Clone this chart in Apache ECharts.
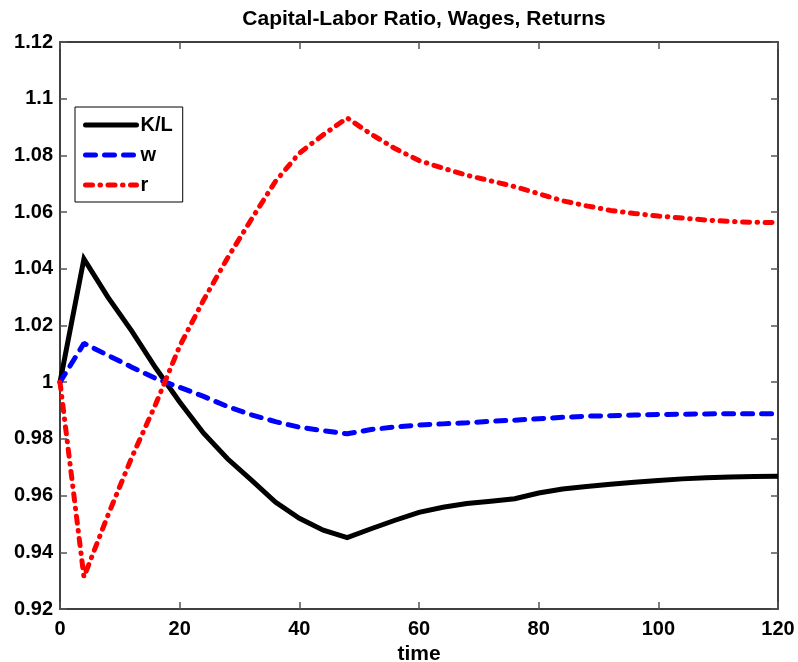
<!DOCTYPE html>
<html>
<head>
<meta charset="utf-8">
<script src="https://cdn.jsdelivr.net/npm/echarts@6/dist/echarts.min.js"></script>
<style>html,body{margin:0;padding:0;background:#fff;}#c{width:798px;height:662px;}</style>
</head>
<body>
<div id="c"></div>
<script>
const time = [0,4,8,12,16,20,24,28,32,36,40,44,48,52,56,60,64,68,72,76,80,84,88,92,96,100,104,108,112,116,120];
const capitalLabor = [1.000,1.0435,1.030,1.018,1.005,0.993,0.982,0.973,0.9655,0.9577,0.952,0.9478,0.9452,0.9483,0.9513,0.9541,0.9559,0.9572,0.958,0.9589,0.9609,0.9623,0.9632,0.964,0.9647,0.9653,0.9659,0.9663,0.9666,0.9667,0.9668];
const wages = [1.000,1.0137,1.0095,1.0053,1.0013,0.9982,0.995,0.9914,0.9885,0.9861,0.9841,0.9829,0.9818,0.9833,0.9842,0.9849,0.9853,0.9857,0.9862,0.9866,0.9871,0.9876,0.988,0.9882,0.9884,0.9886,0.9887,0.9888,0.9889,0.9889,0.9889];
const returns = [1.000,0.9313,0.953,0.9735,0.9923,1.0127,1.029,1.0438,1.0575,1.0708,1.0808,1.0873,1.0932,1.0875,1.0824,1.0782,1.0755,1.073,1.071,1.069,1.0665,1.064,1.0622,1.0606,1.0595,1.0586,1.0579,1.0572,1.0567,1.0564,1.0563];
const seriesNames = ['K/L','w','r'];
const titleText = 'Capital-Labor Ratio, Wages, Returns';
const xName = 'time';

const FONT = '"Liberation Sans", Arial, sans-serif';
const pair = arr => time.map((t,i)=>[t,arr[i]]);
const fmtY = v => parseFloat(Number(v).toFixed(2)).toString();

const chart = echarts.init(document.getElementById('c'), null, {renderer:'canvas'});
chart.setOption({
  animation:false,
  backgroundColor:'#fff',
  title:{text:titleText,left:419,textAlign:'center',top:4,
    textStyle:{fontFamily:FONT,fontWeight:'bold',fontSize:21,color:'#000'}},
  grid:{left:60,right:20,top:42,bottom:53,containLabel:false,outerBoundsMode:'none'},
  legend:{orient:'vertical',left:75,top:107,padding:[8,10,7,8],itemGap:10,
    itemWidth:51,itemHeight:14,borderColor:'#000',borderWidth:1,backgroundColor:'#fff',
    itemStyle:{color:'transparent',borderWidth:0,opacity:0},
    lineStyle:{width:5,cap:'round'},
    textStyle:{fontFamily:FONT,fontWeight:'bold',fontSize:20,color:'#000',padding:[0,0,0,-1]},
    data:seriesNames},
  xAxis:[{type:'value',min:0,max:120,interval:20,position:'bottom',
      name:xName,nameLocation:'middle',nameGap:35,
      nameTextStyle:{fontFamily:FONT,fontWeight:'bold',fontSize:21,color:'#000'},
      axisLine:{onZero:false,lineStyle:{color:'#000',width:1.5}},
      axisTick:{inside:true,length:7,lineStyle:{color:'#555',width:1.5}},
      axisLabel:{margin:10,fontFamily:FONT,fontWeight:'bold',fontSize:20,color:'#000'},
      splitLine:{show:false}},
    {type:'value',min:0,max:120,interval:20,position:'top',
      axisLine:{onZero:false,lineStyle:{color:'#000',width:1.5}},
      axisTick:{inside:true,length:7,lineStyle:{color:'#555',width:1.5}},
      axisLabel:{show:false},splitLine:{show:false}}],
  yAxis:[{type:'value',min:0.92,max:1.12,interval:0.02,position:'left',
      axisLine:{show:true,onZero:false,lineStyle:{color:'#000',width:1.5}},
      axisTick:{show:true,inside:true,length:7,lineStyle:{color:'#555',width:1.5}},
      axisLabel:{margin:7,formatter:fmtY,fontFamily:FONT,fontWeight:'bold',fontSize:20,color:'#000'},
      splitLine:{show:false}},
    {type:'value',min:0.92,max:1.12,interval:0.02,position:'right',
      axisLine:{show:true,onZero:false,lineStyle:{color:'#000',width:1.5}},
      axisTick:{show:true,inside:true,length:7,lineStyle:{color:'#555',width:1.5}},
      axisLabel:{show:false},splitLine:{show:false}}],
  series:[
    {name:seriesNames[0],type:'line',data:pair(capitalLabor),symbol:'none',
      lineStyle:{color:'#000',width:5,type:'solid',join:'miter'},itemStyle:{color:'#000'},z:3},
    {name:seriesNames[1],type:'line',data:pair(wages),symbol:'none',
      lineStyle:{color:'#0000ff',width:5,type:[10,9],cap:'round'},itemStyle:{color:'#0000ff'},z:4},
    {name:seriesNames[2],type:'line',data:pair(returns),symbol:'none',
      lineStyle:{color:'#ff0000',width:5,type:[7,7.5,0.5,7.5],cap:'round'},itemStyle:{color:'#ff0000'},z:5}
  ]
});
</script>
</body>
</html>
